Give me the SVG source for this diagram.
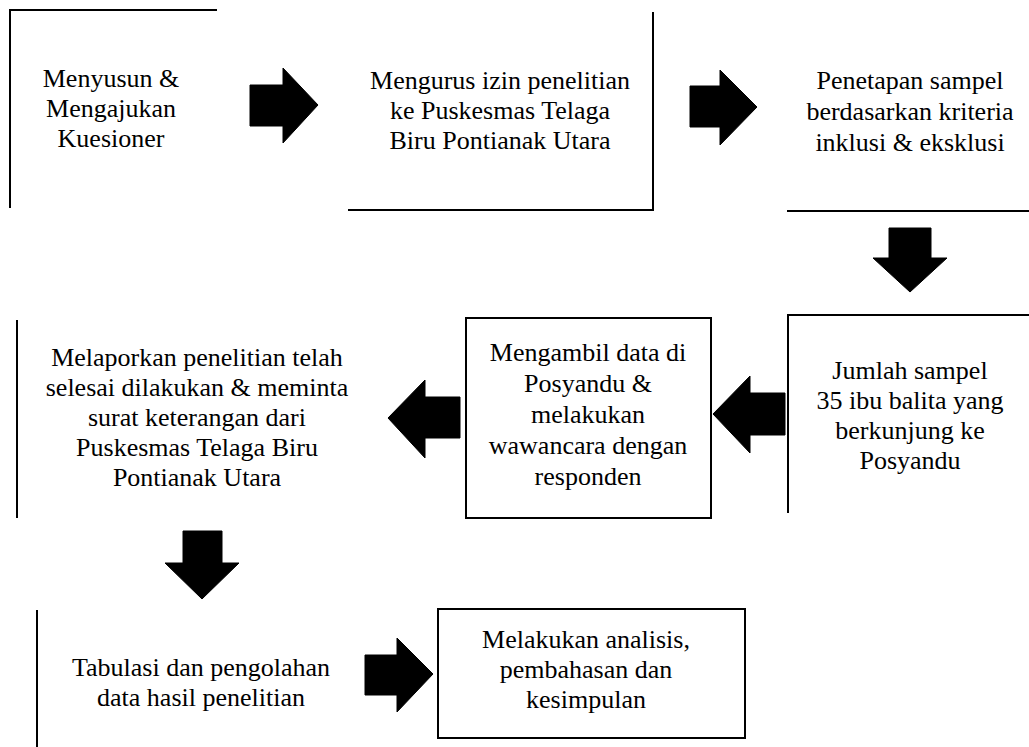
<svg xmlns="http://www.w3.org/2000/svg" width="1029" height="747" viewBox="0 0 1029 747">
<defs>
<style>
.ln{stroke:#000;stroke-width:2;fill:none}
.bx{stroke:#000;stroke-width:2;fill:#fff}
.t{font-family:"Liberation Serif","Times New Roman",serif;font-size:26px;fill:#000;text-anchor:middle}
.ar{fill:#000;stroke:#000;stroke-width:1}
</style>
</defs>
<rect width="1029" height="747" fill="#fff"/>
<g id="node1">
<path class="ln" d="M10,208 V10 H217"/>
<text class="t" x="111" y="87">Menyusun &amp;</text>
<text class="t" x="111" y="117">Mengajukan</text>
<text class="t" x="111" y="147">Kuesioner</text>
</g>
<g id="node2">
<path class="ln" d="M653,12 V210 H348"/>
<text class="t" x="500" y="89">Mengurus izin penelitian</text>
<text class="t" x="500" y="119">ke Puskesmas Telaga</text>
<text class="t" x="500" y="149">Biru Pontianak Utara</text>
</g>
<g id="node3">
<path class="ln" d="M787,211 H1029"/>
<text class="t" x="910" y="89">Penetapan sampel</text>
<text class="t" x="910" y="120">berdasarkan kriteria</text>
<text class="t" x="910" y="151">inklusi &amp; eksklusi</text>
</g>
<g id="node4">
<path class="ln" d="M788,513 V315 H1029"/>
<text class="t" x="910" y="379">Jumlah sampel</text>
<text class="t" x="910" y="409">35 ibu balita yang</text>
<text class="t" x="910" y="439">berkunjung ke</text>
<text class="t" x="910" y="469">Posyandu</text>
</g>
<g id="node5">
<rect class="bx" x="466" y="318" width="245" height="200"/>
<text class="t" x="588" y="361">Mengambil data di</text>
<text class="t" x="588" y="392">Posyandu &amp;</text>
<text class="t" x="588" y="423">melakukan</text>
<text class="t" x="588" y="454">wawancara dengan</text>
<text class="t" x="588" y="485">responden</text>
</g>
<g id="node6">
<path class="ln" d="M17,320 V518"/>
<text class="t" x="197" y="366">Melaporkan penelitian telah</text>
<text class="t" x="197" y="396">selesai dilakukan &amp; meminta</text>
<text class="t" x="197" y="426">surat keterangan dari</text>
<text class="t" x="197" y="456">Puskesmas Telaga Biru</text>
<text class="t" x="197" y="486">Pontianak Utara</text>
</g>
<g id="node7">
<path class="ln" d="M37,610 V747"/>
<text class="t" x="201" y="676">Tabulasi dan pengolahan</text>
<text class="t" x="201" y="706">data hasil penelitian</text>
</g>
<g id="node8">
<rect class="bx" x="438" y="609" width="307" height="129"/>
<text class="t" x="586" y="648">Melakukan analisis,</text>
<text class="t" x="586" y="678">pembahasan dan</text>
<text class="t" x="586" y="708">kesimpulan</text>
</g>
<g id="connectors">
<path class="ar" d="M250,85 H283 V68 L318,105 L283,143 V126 H250 Z"/>
<path class="ar" d="M690,86 H720 V70 L757,107 L720,145 V127 H690 Z"/>
<path class="ar" d="M889,228 H931 V258 H947 L910,292 L873,258 H889 Z"/>
<path class="ar" d="M785,393 H750 V376 L713,414 L750,453 V435 H785 Z"/>
<path class="ar" d="M460,397 H425 V380 L388,418 L425,458 V438 H460 Z"/>
<path class="ar" d="M183,531 H222 V563 H239 L202,599 L165,563 H183 Z"/>
<path class="ar" d="M365,655 H397 V638 L433,674 L397,712 V695 H365 Z"/>
</g>
</svg>
